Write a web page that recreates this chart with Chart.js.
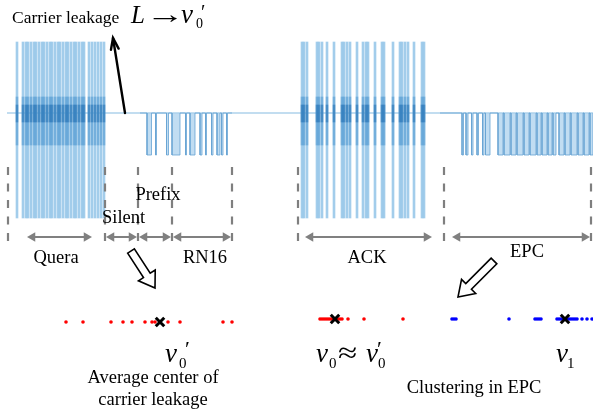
<!DOCTYPE html>
<html>
<head>
<meta charset="utf-8">
<script src="https://cdn.jsdelivr.net/npm/chart.js@4/dist/chart.umd.min.js"></script>
<style>
  html, body { margin: 0; padding: 0; background: #fff; }
  canvas { display: block; }
</style>
</head>
<body>
<canvas id="c" width="593" height="420"></canvas>
<script>
// Reader bursts: centre of every carrier pulse (time axis, samples)
const queryPulses = [17,23,26,28,31,34,36,39,42,44,47,50,52,55,58,60,63,66,68,71,74,76,79,82,84,89,92,95,98,101,104];
const ackPulses = [302,304,307,317,319,322,327,334,342,344,347,350,357,363,366,368,375,382,384,393,400,402,405,408,414,422,424];

// Tag backscatter: intervals where the reflected level is low
const rn16Low = [[147,151.5],[155.5,156.5],[166.5,168.5],[172,180],[185.5,186.5],[190,195],[200,202],[205.5,206.5],[211.5,213],[217,220],[221.5,223],[226.5,227.5]];
const epcLow = [[462,463.5],[466,468],[471.5,473],[477,478.5],[482.5,484],[485.5,490],[498,503],[504,510],[511,516],[517,523],[524,529],[530,536],[537,541],[542,547],[548,552],[553,556],[559,564],[565,570],[571,577],[578,583],[584,589],[590,593]];

// Frame segmentation
const segmentEdges = [8,105,138,172,232,298,444,591];
const segmentNames = ['Quera','Silent','Prefix','RN16','ACK','EPC'];
const segmentSpans = [[27,92],[106,137],[139,171],[173,231],[305,432],[452,590]];

// Projected samples on the I/Q line
const leakageSamples = [66,83,111,123,132,145,152,155,168,180,223,232];
const ackSamples = [320,322,324,326,328,330,332,334,336,338,340,342,348,364,403];
const epcSamples = [452,454,456,509,535,537,539,541,557,559,561,563,565,567,569,571,573,575,577,582,587,592];
const leakageCentre = [160];
const epcCentres = [335,565];

// ---- drawing levels (vertical axis runs top-down) ----
const LV = { base: 113, top: 42, bottom: 218, coreTop: 97, coreBottom: 145, midTop: 105, midBottom: 122, tagLow: 155,
             edgeTop: 167, edgeBottom: 245, spanY: 237, leakRow: 322, epcRow: 319 };

function squareWave(lows, start, end) {
  const pts = [{x: start, y: LV.base}];
  lows.forEach(([a, b]) => {
    pts.push({x: a, y: LV.base}, {x: a, y: LV.tagLow}, {x: b, y: LV.tagLow}, {x: b, y: LV.base});
  });
  pts.push({x: end, y: LV.base});
  return pts;
}
const pulseBars = (list, lo, hi) => list.map(x => ({x, y: [lo, hi]}));
const row = (list, yv) => list.map(x => ({x, y: yv}));

const datasets = [];

datasets.push({ type: 'line', order: 20, data: [{x: 7, y: LV.base}, {x: 593, y: LV.base}],
  borderColor: 'rgba(120,178,222,0.9)', borderWidth: 1.2, pointRadius: 0 });

const allPulses = queryPulses.concat(ackPulses);
datasets.push({ type: 'bar', order: 19, grouped: false, barThickness: 2,
  data: pulseBars(allPulses, LV.top, LV.bottom), backgroundColor: 'rgba(140,192,230,0.8)' });
datasets.push({ type: 'bar', order: 18, grouped: false, barThickness: 2,
  data: pulseBars(allPulses, LV.coreTop, LV.coreBottom), backgroundColor: 'rgba(70,145,205,0.5)' });
datasets.push({ type: 'bar', order: 17, grouped: false, barThickness: 2,
  data: pulseBars(allPulses, LV.midTop, LV.midBottom), backgroundColor: 'rgba(25,105,175,0.5)' });

[[rn16Low, 140, 232], [epcLow, 440, 593]].forEach(([lows, s, e]) => {
  datasets.push({ type: 'line', order: 16, data: squareWave(lows, s, e),
    borderColor: 'rgba(105,165,212,0.9)', borderWidth: 0.9, pointRadius: 0,
    fill: {value: LV.base}, backgroundColor: 'rgba(172,210,238,0.75)' });
});

segmentEdges.forEach(x => {
  datasets.push({ type: 'line', order: 10, data: [{x, y: LV.edgeTop}, {x, y: LV.edgeBottom}],
    borderColor: '#7f7f7f', borderWidth: 2.2, borderDash: [8, 8.5], pointRadius: 0 });
});

const headR = 5.5;
segmentSpans.forEach(([a, b]) => {
  datasets.push({ type: 'line', order: 9,
    data: [{x: a + headR, y: LV.spanY}, {x: b - headR, y: LV.spanY}],
    borderColor: '#808080', borderWidth: 2,
    pointStyle: 'triangle', pointRadius: headR, pointRotation: [-90, 90],
    pointBackgroundColor: '#808080', pointBorderWidth: 0 });
});

datasets.push({ type: 'scatter', order: 5, data: row(leakageSamples, LV.leakRow).concat(row(ackSamples, LV.epcRow)),
  pointRadius: 1.8, pointBackgroundColor: '#ff0000', pointBorderWidth: 0 });
datasets.push({ type: 'scatter', order: 5, data: row(epcSamples, LV.epcRow),
  pointRadius: 1.8, pointBackgroundColor: '#0000ff', pointBorderWidth: 0 });
datasets.push({ type: 'scatter', order: 1, data: row(leakageCentre, LV.leakRow).concat(row(epcCentres, LV.epcRow)),
  pointStyle: 'crossRot', pointRadius: 6, pointBorderWidth: 3, pointBorderColor: '#000' });

// ---- annotations: text, pointer and hollow arrows ----
const SERIF = '"Liberation Serif","Times New Roman",serif';
const annotations = {
  id: 'annotations',
  afterDatasetsDraw(chart) {
    const {ctx, scales: {x, y}} = chart;
    const X = v => x.getPixelForValue(v), Y = v => y.getPixelForValue(v);
    ctx.save();
    ctx.fillStyle = '#000';
    ctx.textBaseline = 'alphabetic';
    const put = (t, px, py, size, style, align, stretch) => {
      ctx.font = `${style || ''} ${size}px ${SERIF}`;
      ctx.textAlign = align || 'left';
      if (stretch) {
        ctx.save();
        ctx.translate(X(px), Y(py));
        ctx.scale(stretch, 1);
        ctx.fillText(t, 0, 0);
        ctx.restore();
      } else {
        ctx.fillText(t, X(px), Y(py));
      }
    };

    // heading
    put('Carrier leakage', 12, 23, 17.5);
    put('L', 131, 23, 25, 'italic');
    put('\u2192', 146, 23, 26, '', 'left', 1.5);
    put('v', 181, 23, 27, 'italic');
    put('0', 196, 28, 14);
    put('\u2032', 201, 19, 20);

    // segment names
    const nameAt = [[56, 263, 'center'], [102, 223, 'left'], [158, 200, 'center'], [205, 263, 'center'], [367, 263, 'center'], [527, 257, 'center']];
    segmentNames.forEach((n, i) => put(n, nameAt[i][0], nameAt[i][1], 18.5, '', nameAt[i][2]));

    // centre labels
    put('v', 165, 362, 27, 'italic');
    put('0', 179, 368, 15);
    put('\u2032', 185, 356, 22);
    put('Average center of', 153, 383, 18.5, '', 'center');
    put('carrier leakage', 153, 405, 18.5, '', 'center');

    put('v', 316, 362, 27, 'italic');
    put('0', 329, 368, 15);
    put('\u2248', 338, 362, 28, '', 'left', 1.25);
    put('v', 366, 362, 27, 'italic');
    put('0', 378, 368, 15);
    put('\u2032', 377, 356, 22);
    put('v', 556, 362, 27, 'italic');
    put('1', 567, 368, 15);
    put('Clustering in EPC', 474, 393, 18.5, '', 'center');

    // pointer from the silent carrier to the heading
    ctx.strokeStyle = '#000';
    ctx.lineWidth = 2.4;
    ctx.lineCap = 'round';
    ctx.beginPath();
    ctx.moveTo(X(125), Y(113));
    ctx.lineTo(X(113), Y(38));
    ctx.stroke();
    const ang = Math.atan2(Y(38) - Y(113), X(113) - X(125));
    ctx.beginPath();
    ctx.moveTo(X(113) - 12 * Math.cos(ang - 0.33), Y(38) - 12 * Math.sin(ang - 0.33));
    ctx.lineTo(X(113), Y(38));
    ctx.lineTo(X(113) - 12 * Math.cos(ang + 0.33), Y(38) - 12 * Math.sin(ang + 0.33));
    ctx.stroke();

    // hollow block arrows
    const hollow = (x1, y1, x2, y2) => {
      const ax = X(x1), ay = Y(y1), bx = X(x2), by = Y(y2);
      const len = Math.hypot(bx - ax, by - ay), ux = (bx - ax) / len, uy = (by - ay) / len;
      const nx = -uy, ny = ux, sw = 4, hw = 10, hl = 15;
      const hx = bx - ux * hl, hy = by - uy * hl;
      ctx.beginPath();
      ctx.moveTo(ax + nx * sw, ay + ny * sw);
      ctx.lineTo(hx + nx * sw, hy + ny * sw);
      ctx.lineTo(hx + nx * hw, hy + ny * hw);
      ctx.lineTo(bx, by);
      ctx.lineTo(hx - nx * hw, hy - ny * hw);
      ctx.lineTo(hx - nx * sw, hy - ny * sw);
      ctx.lineTo(ax - nx * sw, ay - ny * sw);
      ctx.closePath();
      ctx.fillStyle = '#fff';
      ctx.fill();
      ctx.lineWidth = 1.6;
      ctx.lineJoin = 'miter';
      ctx.stroke();
    };
    hollow(131, 251, 155, 288);
    hollow(494, 261, 458, 297);
    ctx.restore();
  }
};

new Chart(document.getElementById('c'), {
  type: 'bar',
  data: { datasets },
  options: {
    responsive: false,
    animation: false,
    events: [],
    layout: { padding: 0, autoPadding: false },
    plugins: { legend: { display: false }, tooltip: { enabled: false } },
    scales: {
      x: { type: 'linear', min: 0, max: 593, offset: false, display: false, grid: { display: false } },
      y: { type: 'linear', min: 0, max: 420, reverse: true, display: false, grid: { display: false } }
    }
  },
  plugins: [annotations]
});
</script>
</body>
</html>
